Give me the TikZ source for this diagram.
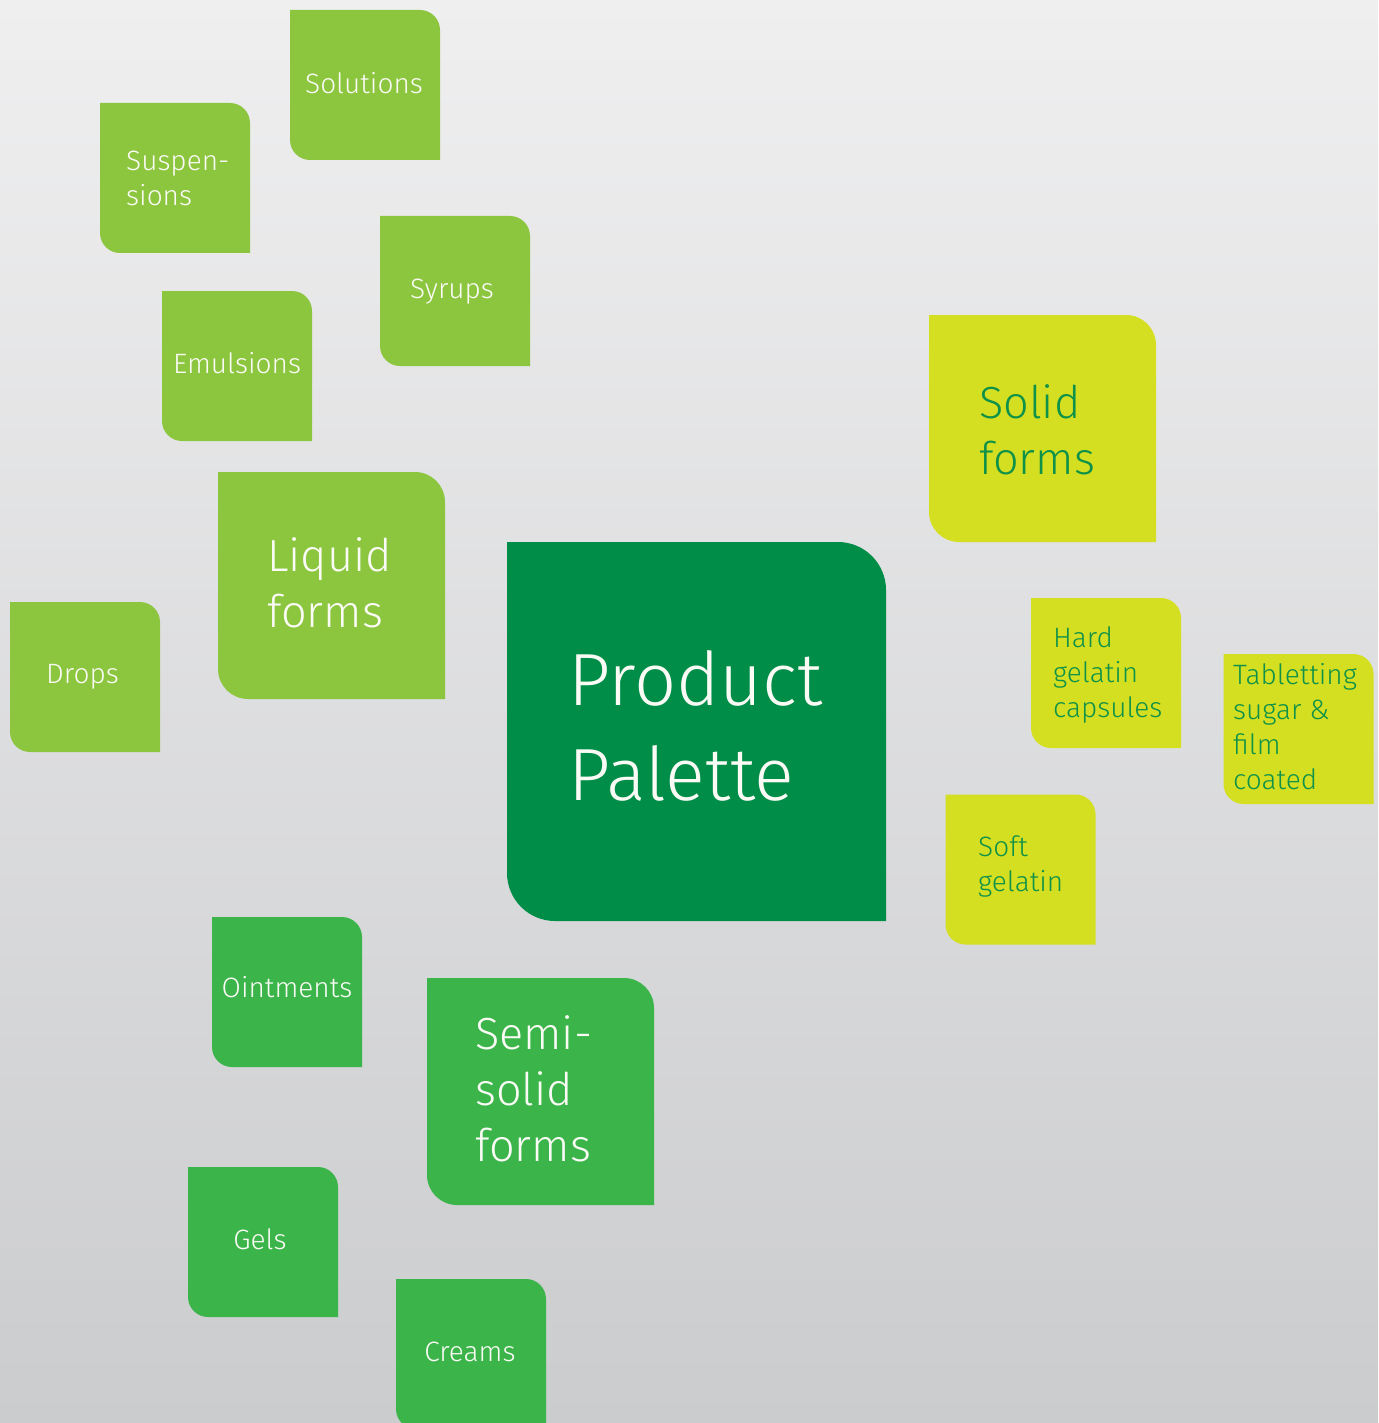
\documentclass[tikz,border=0pt]{standalone}
\usepackage{fontspec}
\setmainfont{Fira Sans Light}
\usetikzlibrary{calc}
\pgfdeclarelayer{back}
\pgfdeclarelayer{bg}
\pgfsetlayers{back,bg,main}
\definecolor{lgreen}{HTML}{8CC63F}
\definecolor{dgreen}{HTML}{008D48}
\definecolor{mgreen}{HTML}{3BB54A}
\definecolor{ygreen}{HTML}{D5DF21}
\definecolor{ytext}{HTML}{0E9148}
\definecolor{bgtop}{HTML}{EFEFF0}
\definecolor{bgbot}{HTML}{CBCCCE}
\definecolor{wtext}{HTML}{FBFBF6}
\tikzset{
  tile/.style={minimum width=#1, minimum height=#1, inner sep=0pt, outer sep=0pt},
  small/.style={font=\fontsize{28}{35}\selectfont, inner sep=0pt, text=wtext},
  mid/.style={font=\fontsize{45}{56}\selectfont, inner sep=0pt, text=wtext},
  big/.style={font=\fontsize{74}{95}\selectfont, inner sep=0pt, text=wtext},
  ylab/.style={text=ytext},
}
\newcommand\tilefill[3]{%
  \begin{pgfonlayer}{bg}
  \fill[#3] (#1.north west) -- ([xshift=-#2]#1.north east)
     arc[start angle=90,end angle=0,radius=#2] -- (#1.south east)
     -- ([xshift=#2]#1.south west)
     arc[start angle=270,end angle=180,radius=#2] -- cycle;
  \end{pgfonlayer}}
\begin{document}
\begin{tikzpicture}[x=1pt,y=1pt]
\useasboundingbox (0,0) rectangle (1378,-1423);
\begin{pgfonlayer}{back}
\shade[top color=bgtop, bottom color=bgbot] (0,0) rectangle (1378,-1423);
\end{pgfonlayer}

% tiles
\node[tile=150pt] (sol) at (365,-85) {};   \tilefill{sol}{20pt}{lgreen}
\node[tile=150pt] (susp) at (175,-178) {}; \tilefill{susp}{20pt}{lgreen}
\node[tile=150pt] (syr) at (455,-291) {};  \tilefill{syr}{20pt}{lgreen}
\node[tile=150pt] (emu) at (237,-366) {};  \tilefill{emu}{20pt}{lgreen}
\node[tile=227pt] (liq) at (331.5,-585.5) {}; \tilefill{liq}{30pt}{lgreen}
\node[tile=150pt] (drop) at (85,-677) {};  \tilefill{drop}{20pt}{lgreen}
\node[tile=379pt] (prod) at (696.5,-731.5) {}; \tilefill{prod}{48pt}{dgreen}
\node[tile=227pt] (solid) at (1042.5,-428.5) {}; \tilefill{solid}{30pt}{ygreen}
\node[tile=150pt] (hard) at (1106,-673) {}; \tilefill{hard}{20pt}{ygreen}
\node[tile=150pt] (tab) at (1298.5,-729) {}; \tilefill{tab}{20pt}{ygreen}
\node[tile=150pt] (soft) at (1020.5,-869.5) {}; \tilefill{soft}{20pt}{ygreen}
\node[tile=150pt] (oint) at (287,-992) {}; \tilefill{oint}{20pt}{mgreen}
\node[tile=227pt] (semi) at (540.5,-1091.5) {}; \tilefill{semi}{30pt}{mgreen}
\node[tile=150pt] (gels) at (263,-1242) {}; \tilefill{gels}{20pt}{mgreen}
\node[tile=150pt] (crm) at (471,-1354) {}; \tilefill{crm}{20pt}{mgreen}

% labels (multi-line nodes: base anchor = baseline of last line)
\node[small, anchor=base] (solT) at (364,-94) {Solutions};
\node[small, anchor=base west, align=left] (suspT) at (126,-206) {Suspen-\\sions};
\node[small, anchor=base] (syrT) at (452,-298) {Syrups};
\node[small, anchor=base] (emuT) at (237,-373) {Emulsions};
\node[mid, anchor=base west, align=left] (liqT) at (267,-627) {Liquid\\forms};
\node[small, anchor=base] (dropT) at (82.5,-683) {Drops};
\node[big, anchor=base west, align=left] (prodT) at (568,-800) {Product\\Palette};
\node[mid, ylab, anchor=base west, align=left] (solidT) at (979,-474) {Solid\\forms};
\node[small, ylab, anchor=base west, align=left] (hardT) at (1053,-717) {Hard\\gelatin\\capsules};
\node[small, ylab, anchor=base west, align=left] (tabT) at (1233,-789) {Tabletting\\sugar \&\\film\\coated};
\node[small, ylab, anchor=base west, align=left] (softT) at (978,-891) {Soft\\gelatin};
\node[small, anchor=base] (ointT) at (287,-997) {Ointments};
\node[mid, anchor=base west, align=left] (semiT) at (475,-1161) {Semi-\\solid\\forms};
\node[small, anchor=base] (gelsT) at (260,-1249) {Gels};
\node[small, anchor=base] (crmT) at (470,-1361) {Creams};
\end{tikzpicture}
\end{document}
